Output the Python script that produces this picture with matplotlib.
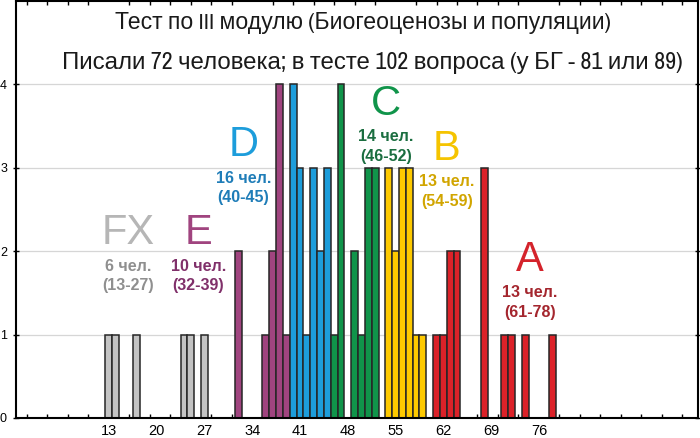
import numpy as np
import matplotlib
matplotlib.use("Agg")
import matplotlib.pyplot as plt
from matplotlib import font_manager

# баллы и число студентов по группам оценок
fx_scores = [13, 14, 17, 24, 25, 27]
fx_counts = [1, 1, 1, 1, 1, 1]
e_scores = [32, 36, 37, 38, 39]
e_counts = [2, 1, 2, 4, 1]
d_scores = [40, 41, 42, 43, 44, 45]
d_counts = [4, 3, 1, 3, 2, 3]
c_scores = [46, 47, 49, 50, 51, 52]
c_counts = [1, 4, 2, 1, 3, 3]
b_scores = [54, 55, 56, 57, 58, 59]
b_counts = [3, 2, 3, 3, 1, 1]
a_scores = [61, 62, 63, 64, 68, 71, 72, 74, 78]
a_counts = [1, 1, 2, 2, 3, 1, 1, 1, 1]

x_labels = [13, 20, 27, 34, 41, 48, 55, 62, 69, 76]
y_labels = [0, 1, 2, 3, 4]

title1 = "Тест по III модулю (Биогеоценозы и популяции)"
title2 = "Писали 72 человека; в тесте 102 вопроса (у БГ - 81 или 89)"

groups = [
    ("FX", "6 чел.", "(13-27)", fx_scores, fx_counts, "#c3c3c3", "#b6b6b6", "#8f8f8f"),
    ("E", "10 чел.", "(32-39)", e_scores, e_counts, "#a0447f", "#a0447f", "#80306a"),
    ("D", "16 чел.", "(40-45)", d_scores, d_counts, "#1d9ddb", "#1d9ddb", "#1f7db8"),
    ("C", "14 чел.", "(46-52)", c_scores, c_counts, "#10944a", "#10944a", "#1b6e40"),
    ("B", "13 чел.", "(54-59)", b_scores, b_counts, "#fdc900", "#f5c400", "#d1a500"),
    ("A", "13 чел.", "(61-78)", a_scores, a_counts, "#dc2229", "#d4232b", "#a4262e"),
]
# где стоят подписи групп (x, y буквы)
label_pos = {"FX": (15.8, 2.22), "E": (26.1, 2.22), "D": (32.7, 3.27),
             "C": (53.6, 3.77), "B": (62.5, 3.23), "A": (74.7, 1.90)}

# узкий шрифт для заголовка, если найдётся
names = sorted({f.name for f in font_manager.fontManager.ttflist})
narrow = [n for n in names if "Narrow" in n or "Condensed" in n]
title_family = narrow[:1] + ["Liberation Sans", "DejaVu Sans"]

fig = plt.figure(figsize=(7, 4.38), dpi=100)
ax = fig.add_axes([16 / 700, 20 / 438, 682 / 700, 417 / 438])

for name, n_txt, r_txt, xs, hs, col, lcol, tcol in groups:
    ax.bar(xs, hs, width=1.0, color=col, edgecolor="#262626", linewidth=1.1, zorder=2)
    lx, ly = label_pos[name]
    ax.text(lx, ly, name, color=lcol, fontsize=30, ha="center", va="center",
            family=["Liberation Sans", "DejaVu Sans"])
    ax.text(lx, ly - 0.40, n_txt, color=tcol, fontsize=11.5, fontweight="bold",
            ha="center", va="center", family=["Liberation Sans", "DejaVu Sans"])
    ax.text(lx, ly - 0.63, r_txt, color=tcol, fontsize=11.5, fontweight="bold",
            ha="center", va="center", family=["Liberation Sans", "DejaVu Sans"])

t1 = ax.text(0.508, 0.948, title1, transform=ax.transAxes,
             fontsize=20, ha="center", va="center", color="#1a1a1a", family=title_family)
t2 = ax.text(0.523, 0.852, title2, transform=ax.transAxes,
             fontsize=20, ha="center", va="center", color="#1a1a1a", family=title_family)

ax.set_xlim(-0.6, 99.3)
ax.set_ylim(0, 5)

ax.set_yticks(y_labels)
ax.set_yticklabels([str(v) for v in y_labels], fontsize=9, family="Liberation Sans")
ax.set_xticks(x_labels)
ax.set_xticklabels([str(v) for v in x_labels], fontsize=10.5, family="Liberation Sans")
ax.set_xticks(np.arange(1, 99, 3), minor=True)
ax.tick_params(axis="x", which="major", length=0, pad=4.5)
ax.tick_params(axis="x", which="minor", direction="in", length=3, top=True, width=1)
ax.tick_params(axis="y", which="major", direction="inout", length=5, right=True, width=1, pad=4)
ax.grid(axis="y", color="#d6d6d6", linewidth=0.9, zorder=0)
ax.set_axisbelow(True)
for s in ax.spines.values():
    s.set_linewidth(1.5)
    s.set_color("black")

# подгоняем размер заголовка под ширину строк в оригинале
fig.canvas.draw()
r = fig.canvas.get_renderer()
for t, target in ((t1, 492), (t2, 620)):
    w = t.get_window_extent(r).width
    t.set_fontsize(20 * target / w)

fig.savefig("out.png", dpi=100)
